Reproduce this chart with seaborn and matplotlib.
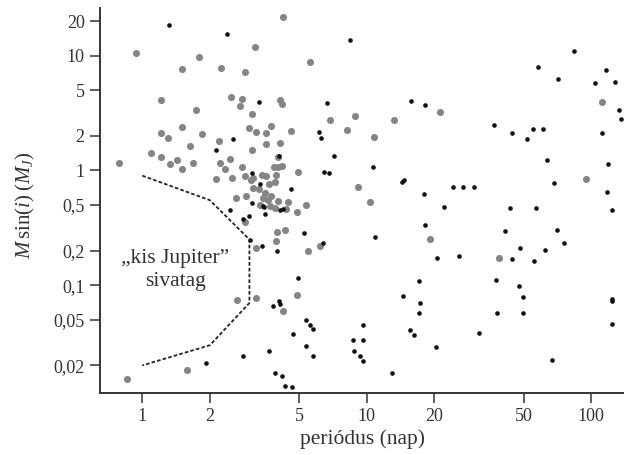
import matplotlib
matplotlib.use("Agg")
import matplotlib.pyplot as plt
import seaborn as sns
import pandas as pd
from matplotlib.ticker import FixedLocator, NullLocator

# gray points (larger markers): period (days), M sin(i) (M_J)
gray_period = [0.787, 0.94, 1.21, 1.09, 1.21, 1.30, 1.21, 1.33, 1.43, 1.50,
               1.50, 1.63, 1.68, 1.73, 1.51, 1.79, 1.85, 2.23, 2.20, 2.22,
               2.34, 2.14, 2.47, 2.52, 2.48, 2.72, 2.77, 2.86, 3.18, 4.23,
               3.08, 2.99, 3.20, 3.55, 3.76, 3.57, 3.07, 4.10, 4.19, 4.12,
               4.61, 4.01, 2.77, 2.86, 3.85, 4.03, 4.19, 3.12, 3.40, 3.56,
               3.93, 3.90, 3.67, 4.94, 5.60, 6.86, 8.14, 8.86, 9.17, 13.2,
               21.2, 10.8, 111, 95.0, 10.3, 19.2, 38.9, 2.61, 2.89, 2.87,
               3.22, 3.99, 4.32, 3.93, 5.49, 6.19, 5.36, 4.87, 2.64, 3.21,
               4.22, 4.87, 1.58, 0.852, 3.06, 3.11, 3.30, 3.51, 3.45, 3.63,
               3.76, 4.02, 4.46, 3.33, 3.69, 3.89, 4.36]
gray_mass = [1.16, 10.45, 4.13, 1.42, 2.10, 1.93, 1.31, 1.13, 1.24, 1.03,
             2.40, 1.64, 1.17, 3.33, 7.64, 9.72, 2.08, 7.74, 1.81, 1.16,
             1.03, 0.847, 1.26, 0.864, 4.36, 3.61, 4.21, 7.24, 11.8, 21.7,
             3.07, 2.35, 2.16, 2.12, 2.45, 1.71, 1.52, 4.13, 3.81, 1.73,
             2.22, 1.31, 1.07, 0.90, 1.07, 1.08, 1.09, 0.859, 0.912, 0.887,
             0.912, 0.786, 0.761, 0.968, 8.80, 2.73, 2.26, 3.00, 0.721, 2.77,
             3.23, 1.95, 3.94, 0.842, 0.531, 0.254, 0.171, 0.575, 0.602, 0.355,
             0.212, 0.292, 0.303, 0.244, 0.199, 0.221, 0.502, 0.434, 0.0743, 0.0774,
             0.0596, 0.0815, 0.0181, 0.0152, 0.83, 0.703, 0.689, 0.636, 0.575, 0.556,
             0.594, 0.537, 0.526, 0.502, 0.486, 0.471, 0.46]

# black points (smaller markers)
black_period = [1.32, 2.38, 3.31, 2.54, 2.13, 4.06, 3.09, 3.35, 4.61, 6.65,
                6.11, 6.25, 7.12, 6.47, 6.81, 8.42, 15.7, 18.2, 10.7, 14.3,
                14.6, 18.0, 24.3, 26.7, 30.0, 36.9, 44.2, 51.5, 54.8, 60.9,
                63.3, 68.2, 58.1, 71.3, 83.7, 104, 116, 127, 133, 135,
                112, 119, 118, 22.1, 18.2, 10.9, 20.6, 25.7, 17.0, 14.5,
                17.2, 17.1, 9.65, 8.65, 9.62, 8.77, 9.35, 9.59, 12.9, 15.6,
                16.3, 20.4, 31.5, 43.6, 56.9, 41.3, 48.0, 44.2, 55.7, 62.2,
                70.3, 75.5, 37.8, 47.8, 49.6, 38.0, 49.6, 66.6, 123, 123,
                123, 124, 2.45, 3.09, 2.82, 2.98, 3.51, 3.44, 4.12, 4.25,
                3.02, 3.41, 3.97, 5.24, 6.40, 4.94, 3.82, 4.06, 4.12, 5.36,
                5.60, 5.74, 4.68, 5.38, 5.76, 3.68, 2.81, 1.93, 3.91, 4.20,
                4.31, 4.64, 3.50]
black_mass = [18.5, 15.5, 3.91, 1.88, 1.51, 1.33, 0.955, 0.766, 0.693, 3.89,
              2.14, 1.92, 1.33, 0.968, 0.949, 13.8, 4.02, 3.71, 1.08, 0.786,
              0.825, 0.623, 0.721, 0.711, 0.711, 2.50, 2.12, 1.89, 2.31, 2.28,
              1.22, 0.777, 8.0, 6.29, 11.0, 5.77, 7.43, 5.93, 3.38, 2.82,
              2.10, 1.14, 0.652, 0.483, 0.332, 0.263, 0.173, 0.178, 0.109, 0.0805,
              0.0694, 0.0573, 0.0453, 0.0333, 0.0333, 0.0267, 0.024, 0.0217, 0.0171, 0.0407,
              0.037, 0.029, 0.038, 0.473, 0.473, 0.298, 0.211, 0.169, 0.161, 0.201,
              0.303, 0.231, 0.111, 0.0984, 0.0794, 0.0576, 0.0576, 0.0224, 0.452, 0.0752,
              0.0722, 0.0462, 0.452, 0.52, 0.380, 0.403, 0.42, 0.486, 0.455, 0.463,
              0.249, 0.221, 0.199, 0.283, 0.233, 0.1155, 0.0663, 0.0722, 0.068, 0.0497,
              0.0453, 0.0415, 0.0373, 0.0293, 0.0242, 0.0265, 0.0243, 0.0211, 0.0173, 0.0162,
              0.0132, 0.0131, 0.48]

# "kis Jupiter" desert boundary
desert_period = [1, 2, 3, 3, 2, 1]
desert_mass = [0.9, 0.55, 0.25, 0.07, 0.03, 0.02]

x_ticks = [1, 2, 5, 10, 20, 50, 100]
x_labels = ["1", "2", "5", "10", "20", "50", "100"]
y_ticks = [0.02, 0.05, 0.1, 0.2, 0.5, 1, 2, 5, 10, 20]
y_labels = ["0,02", "0,05", "0,1", "0,2", "0,5", "1", "2", "5", "10", "20"]

sns.set_theme(style="ticks")
plt.rcParams['font.family'] = ['Liberation Serif', 'DejaVu Serif']
plt.rcParams['mathtext.fontset'] = 'custom'
plt.rcParams['mathtext.rm'] = 'Liberation Serif'
plt.rcParams['mathtext.it'] = 'Liberation Serif:italic'

text_col = "#333333"

fig = plt.figure(figsize=(6.24, 4.55), dpi=100)
ax = fig.add_axes([100 / 624, 62 / 455, 524 / 624, 385 / 455])

gray_df = pd.DataFrame({"period": gray_period, "mass": gray_mass})
black_df = pd.DataFrame({"period": black_period, "mass": black_mass})

sns.scatterplot(data=gray_df, x="period", y="mass", ax=ax, color="#858585",
                s=26, linewidth=0, zorder=2)
sns.scatterplot(data=black_df, x="period", y="mass", ax=ax, color="#111111",
                s=11, linewidth=0, zorder=3)
ax.plot(desert_period, desert_mass, color="#222222", linestyle=(0, (2, 1.2)),
        linewidth=1.3, zorder=4)

ax.set_xscale("log")
ax.set_yscale("log")
ax.set_xlim(0.648, 139.8)
ax.set_ylim(0.0115, 26)

ax.xaxis.set_major_locator(FixedLocator(x_ticks))
ax.xaxis.set_minor_locator(NullLocator())
ax.set_xticklabels(x_labels)
ax.yaxis.set_major_locator(FixedLocator(y_ticks))
ax.yaxis.set_minor_locator(NullLocator())
ax.set_yticklabels(y_labels)

ax.tick_params(axis="both", which="major", length=7, width=1.1, color="#333333",
               labelsize=13, labelcolor=text_col, pad=4, direction="out")

for side in ["top", "right"]:
    ax.spines[side].set_visible(False)
for side in ["left", "bottom"]:
    ax.spines[side].set_color("#333333")
    ax.spines[side].set_linewidth(1.4)

ax.set_xlabel("periódus (nap)", fontsize=15.5, color=text_col, labelpad=3)
ax.set_ylabel(r"$M\,\sin(i)\;(M_J)$", fontsize=15, color=text_col)
ax.yaxis.set_label_coords(-0.12, 0.487)

ax.text(1.40, 0.135, "„kis Jupiter”\nsivatag", ha="center", va="center",
        fontsize=15.5, color=text_col, linespacing=1.3)

fig.savefig("out.png", dpi=100)
